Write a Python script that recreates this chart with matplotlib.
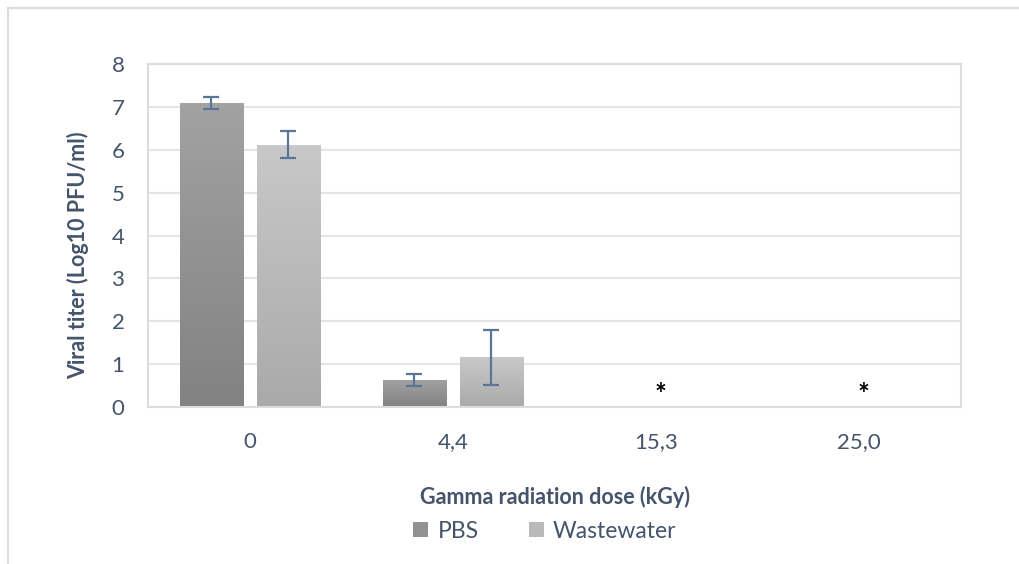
import matplotlib
matplotlib.use("Agg")
import matplotlib.pyplot as plt
from matplotlib.patches import Patch
from matplotlib.lines import Line2D
import matplotlib.colors as mcolors
import numpy as np

plt.rcParams['font.family'] = ['Lato', 'DejaVu Sans']

doses = ['0', '4,4', '15,3', '25,0']
pbs = [7.1, 0.63, 0, 0]
pbs_err = [0.14, 0.14, 0, 0]
ww = [6.12, 1.16, 0, 0]
ww_err = [0.32, 0.64, 0, 0]
nd_labels = ['', '', '*', '*']

txt = '#44546a'
errc = '#5b7599'

fig = plt.figure(figsize=(10.2, 5.64), dpi=100)
ax = fig.add_axes([148 / 1020, 1 - 407 / 564, (961 - 148) / 1020, (407 - 64) / 564])

x = np.arange(len(doses))
w = 0.31
off = 0.19


def grad_bars(xs, vals, top, bottom):
    cmap = mcolors.LinearSegmentedColormap.from_list('g', [bottom, top])
    grad = np.linspace(0, 1, 64).reshape(-1, 1)
    bars = ax.bar(xs, vals, width=w, color='none', edgecolor='none', zorder=2)
    for b in bars:
        h = b.get_height()
        if h <= 0:
            continue
        x0 = b.get_x()
        im = ax.imshow(grad, cmap=cmap, origin='lower', aspect='auto',
                       extent=[x0, x0 + b.get_width(), 0, h], zorder=2)
        im.set_clip_path(b)
    return bars


grad_bars(x - off, pbs, '#a2a2a2', '#828282')
grad_bars(x + off, ww, '#c8c8c8', '#aaaaaa')

for xs, vals, errs in [(x - off, pbs, pbs_err), (x + off, ww, ww_err)]:
    for xi, v, e in zip(xs, vals, errs):
        if v > 0:
            ax.errorbar(xi, v, yerr=e, fmt='none', ecolor=errc, elinewidth=1.6,
                        capsize=6, capthick=1.6, zorder=3)

for xi, s in zip(x, nd_labels):
    if s:
        ax.text(xi + 0.02, 0.28, s, ha='center', va='center', fontsize=20,
                fontweight='bold', color='black')

ax.set_xlim(-0.5, 3.5)
ax.set_ylim(0, 8)
ax.set_yticks(range(0, 9))
ax.set_xticks(x)
ax.set_xticklabels(doses)
ax.yaxis.grid(True, color='#e2e5ea', linewidth=1.5, zorder=0)
ax.set_axisbelow(True)
for sp in ax.spines.values():
    sp.set_color('#dcdcdc')
    sp.set_linewidth(1.5)
ax.tick_params(length=0, labelsize=16, labelcolor=txt, pad=17)
ax.tick_params(axis='x', pad=18)

fig.text(78 / 1020, 1 - 255 / 564, 'Viral titer (Log10 PFU/ml)', rotation=90,
         ha='center', va='center', fontsize=15.5, fontweight='bold', color=txt)
fig.text(555 / 1020, 1 - 497 / 564, 'Gamma radiation dose (kGy)',
         ha='center', va='center', fontsize=15.5, fontweight='bold', color=txt)

handles = [Patch(facecolor='#929292', edgecolor='none', label='PBS'),
           Patch(facecolor='#b9b9b9', edgecolor='none', label='Wastewater')]
fig.legend(handles=handles, loc='center', bbox_to_anchor=(545 / 1020, 1 - 531 / 564),
           ncol=2, frameon=False, fontsize=16.5, labelcolor=txt, handlelength=0.65,
           handleheight=0.65, handletextpad=0.4, columnspacing=2.2)

# outer chart frame (top and left edges visible)
fig.add_artist(Line2D([8 / 1020, 1], [1 - 8 / 564, 1 - 8 / 564], color='#dcdcdc', lw=1.5))
fig.add_artist(Line2D([8 / 1020, 8 / 1020], [0, 1 - 8 / 564], color='#dcdcdc', lw=1.5))

fig.savefig('out.png', dpi=100)
